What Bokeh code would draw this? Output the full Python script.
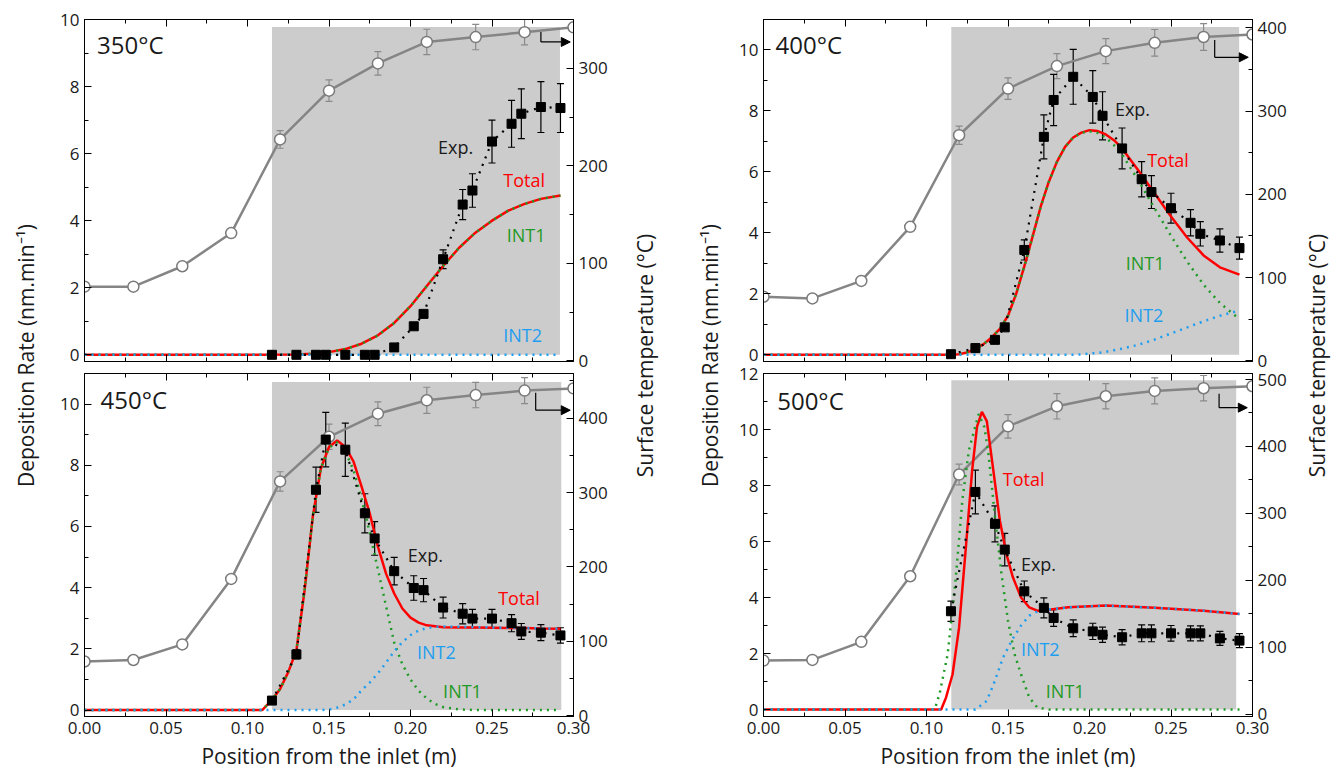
import math
from bokeh.plotting import figure
from bokeh.models import (Range1d, LinearAxis, FixedTicker, NumeralTickFormatter, Whisker, TeeHead,
                          ColumnDataSource, Label, Arrow, NormalHead, CustomLabelingPolicy)
from bokeh.layouts import row, column
from bokeh.embed import file_html
from bokeh.resources import INLINE

FONT = "Open Sans"
TXT = "#1a1a1a"
RED = "#ff0000"
GREEN = "#1f9a26"
BLUE = "#1e9ef0"
GRAY = "#858585"
SHADE = "#cccccc"

# ---------------- data ----------------
x_ticks = [0.00, 0.05, 0.10, 0.15, 0.20, 0.25, 0.30]
x_minor = [0.025, 0.075, 0.125, 0.175, 0.225, 0.275]

# surface temperature profiles (right axis, degC)
temp_x = [0.00, 0.03, 0.06, 0.09, 0.12, 0.15, 0.18, 0.21, 0.24, 0.27, 0.30]
temp_350 = [76, 76, 97, 131, 227, 277, 305, 327, 332, 337, 342]
temp_350_err = [2, 2, 3, 4, 9, 11, 12, 13, 13, 13, 0]
temp_400 = [77, 75, 96, 161, 271, 327, 354, 372, 382, 389, 392]
temp_400_err = [2, 2, 3, 4, 11, 13, 15, 15, 16, 16, 0]
temp_450 = [73, 75, 96, 184, 315, 375, 406, 424, 431, 437, 440]
temp_450_err = [2, 2, 3, 4, 13, 17, 16, 17.5, 17, 17.5, 0]
temp_500 = [80, 81, 108, 206, 358, 430, 460, 475, 483, 487, 490]
temp_500_err = [2, 2, 3, 4, 15.5, 17.5, 19, 19, 19.5, 19, 0]

# experimental deposition rates (nm/min)
exp_x = [0.115, 0.130, 0.142, 0.148, 0.160, 0.172, 0.178, 0.190, 0.202, 0.208,
         0.220, 0.232, 0.238, 0.250, 0.262, 0.268, 0.280, 0.292]
dep_350 = [0, 0, 0, 0, 0, 0, 0, 0.22, 0.85, 1.22, 2.85, 4.48, 4.9, 6.36, 6.89, 7.19, 7.39, 7.36]
dep_350_err = [0.05, 0.05, 0.05, 0.05, 0.05, 0.05, 0.05, 0.05, 0.08, 0.1, 0.28, 0.45, 0.5, 0.64, 0.7, 0.74, 0.76, 0.73]
dep_400 = [0.02, 0.22, 0.49, 0.9, 3.44, 7.15, 8.36, 9.12, 8.46, 7.84, 6.77, 5.76, 5.34, 4.81, 4.33, 3.97, 3.75, 3.5]
dep_400_err = [0.03, 0.05, 0.07, 0.1, 0.33, 0.72, 0.84, 0.9, 0.86, 0.79, 0.67, 0.58, 0.54, 0.49, 0.43, 0.4, 0.38, 0.36]
dep_450 = [0.31, 1.82, 7.2, 8.84, 8.51, 6.43, 5.61, 4.54, 3.99, 3.92, 3.35, 3.15, 2.99, 2.99, 2.84, 2.57, 2.53, 2.44]
dep_450_err = [0.05, 0.15, 0.74, 0.89, 0.87, 0.64, 0.55, 0.45, 0.4, 0.38, 0.34, 0.33, 0.3, 0.3, 0.28, 0.26, 0.26, 0.25]
dep_500 = [3.51, 7.77, 6.63, 5.71, 4.22, 3.63, 3.27, 2.90, 2.79, 2.67, 2.58, 2.72, 2.72, 2.72, 2.72, 2.72, 2.54, 2.46]
dep_500_err = [0.36, 0.78, 0.64, 0.58, 0.37, 0.36, 0.3, 0.3, 0.29, 0.27, 0.27, 0.3, 0.3, 0.28, 0.27, 0.27, 0.25, 0.25]

# model curves
m350_x = [0, 0.10, 0.13, 0.14, 0.15, 0.16, 0.17, 0.18, 0.19, 0.20, 0.21, 0.22, 0.23, 0.24, 0.25, 0.26, 0.27, 0.28, 0.292]
m350_total = [0, 0, 0.01, 0.03, 0.08, 0.17, 0.33, 0.58, 0.95, 1.45, 2.05, 2.65, 3.2, 3.65, 4.0, 4.3, 4.5, 4.65, 4.75]
m350_int1 = [0, 0, 0.01, 0.03, 0.08, 0.17, 0.33, 0.58, 0.95, 1.45, 2.05, 2.65, 3.2, 3.65, 4.0, 4.3, 4.5, 4.65, 4.75]
m350_int2 = [0, 0, 0, 0, 0, 0, 0, 0, 0, 0, 0, 0, 0, 0, 0, 0, 0, 0, 0]

m400_x = [0, 0.10, 0.115, 0.12, 0.125, 0.13, 0.135, 0.14, 0.145, 0.15, 0.155, 0.16, 0.165, 0.17, 0.175,
          0.18, 0.185, 0.19, 0.195, 0.20, 0.205, 0.21, 0.215, 0.22, 0.23, 0.24, 0.25, 0.26, 0.27, 0.28, 0.292]
m400_total = [0, 0, 0.0, 0.02, 0.08, 0.19, 0.35, 0.57, 0.85, 1.28, 2.0, 2.9, 3.86, 4.85, 5.67,
              6.33, 6.82, 7.13, 7.29, 7.37, 7.34, 7.23, 7.04, 6.77, 6.05, 5.29, 4.54, 3.84, 3.26, 2.87, 2.63]
m400_int1 = [0, 0, 0.0, 0.02, 0.08, 0.19, 0.35, 0.57, 0.85, 1.28, 2.0, 2.9, 3.86, 4.85, 5.67,
             6.33, 6.82, 7.13, 7.28, 7.33, 7.28, 7.13, 6.88, 6.57, 5.72, 4.8, 3.9, 3.05, 2.3, 1.7, 1.17]
m400_int2 = [0, 0, 0, 0, 0, 0, 0, 0, 0, 0, 0, 0, 0, 0, 0,
             0, 0, 0, 0.01, 0.04, 0.06, 0.1, 0.15, 0.2, 0.33, 0.5, 0.7, 0.9, 1.1, 1.28, 1.45]

m450_x = [0, 0.109, 0.115, 0.12, 0.125, 0.13, 0.135, 0.14, 0.145, 0.15, 0.155, 0.16, 0.165, 0.17, 0.175,
          0.18, 0.185, 0.19, 0.195, 0.20, 0.205, 0.21, 0.215, 0.22, 0.23, 0.24, 0.25, 0.26, 0.27, 0.28, 0.292]
m450_total = [0, 0, 0.33, 0.69, 1.24, 1.95, 3.9, 6.3, 7.9, 8.6, 8.81, 8.6, 8.13, 7.3, 6.43,
              5.34, 4.46, 3.81, 3.32, 3.02, 2.86, 2.77, 2.74, 2.71, 2.7, 2.7, 2.69, 2.68, 2.68, 2.67, 2.66]
m450_int1 = [0, 0, 0.33, 0.69, 1.24, 1.95, 3.9, 6.3, 7.9, 8.58, 8.75, 8.45, 7.85, 6.9, 5.8,
             4.6, 3.4, 2.2, 1.5, 1.0, 0.63, 0.38, 0.2, 0.1, 0.02, 0, 0, 0, 0, 0, 0]
m450_int2 = [0, 0, 0, 0, 0, 0, 0, 0, 0, 0.02, 0.08, 0.18, 0.35, 0.65, 0.9,
             1.2, 1.55, 1.92, 2.22, 2.45, 2.6, 2.68, 2.72, 2.73, 2.72, 2.71, 2.7, 2.69, 2.68, 2.67, 2.66]

m500_total_x = [0, 0.109, 0.112, 0.116, 0.120, 0.124, 0.128, 0.131, 0.134, 0.137, 0.141, 0.145, 0.149,
                0.153, 0.158, 0.163, 0.168, 0.174, 0.187, 0.21, 0.24, 0.27, 0.292]
m500_total = [0, 0, 0.43, 1.26, 2.93, 5.68, 8.54, 10.1, 10.63, 10.3, 8.54, 6.75, 5.56,
              4.72, 4.0, 3.65, 3.53, 3.55, 3.65, 3.71, 3.63, 3.53, 3.41]
m500_int1_x = [0, 0.105, 0.108, 0.113, 0.118, 0.122, 0.126, 0.132, 0.1355, 0.138, 0.142, 0.146, 0.150,
               0.154, 0.158, 0.163, 0.168, 0.175, 0.292]
m500_int1 = [0, 0, 0.55, 1.98, 4.72, 7.47, 9.26, 10.55, 10.09, 9.14, 6.9, 4.84, 3.17,
             1.98, 1.26, 0.43, 0.07, 0, 0]
m500_int2_x = [0, 0.130, 0.137, 0.142, 0.147, 0.1526, 0.158, 0.163, 0.168, 0.174, 0.187, 0.21, 0.24, 0.27, 0.292]
m500_int2 = [0, 0, 0.31, 1.03, 1.86, 2.5, 3.0, 3.35, 3.5, 3.56, 3.65, 3.71, 3.63, 3.53, 3.41]

# annotation placements (data coordinates)
shade_350 = [0.115, 0.2917, 9.78]
shade_400 = [0.1152, 0.2918, 10.75]
shade_450 = [0.115, 0.2925, 10.72]
shade_500 = [0.1152, 0.290, 11.76]
arrow_350 = [0.280, 9.63, 9.33, 0.298]
arrow_400 = [0.2768, 10.33, 9.76, 0.2974]
arrow_450 = [0.2768, 10.37, 9.80, 0.298]
arrow_500 = [0.2795, 11.28, 10.78, 0.2968]
texts_350 = [("350°C", 0.0077, 9.26), ("Exp.", 0.2169, 6.19), ("Total", 0.2569, 5.2),
             ("INT1", 0.259, 3.57), ("INT2", 0.2569, 0.58)]
texts_400 = [("400°C", 0.0074, 10.19), ("Exp.", 0.2156, 8.06), ("Total", 0.2354, 6.4),
             ("INT1", 0.2222, 3.0), ("INT2", 0.2214, 1.32)]
texts_450 = [("450°C", 0.0098, 10.14), ("Exp.", 0.1983, 5.07), ("Total", 0.2538, 3.65),
             ("INT1", 0.22, 0.62), ("INT2", 0.204, 1.9)]
texts_500 = [("500°C", 0.0084, 11.05), ("Exp.", 0.1579, 5.2), ("Total", 0.1468, 8.22),
             ("INT1", 0.1732, 0.66), ("INT2", 0.1579, 2.15)]

TEXT_COLORS = {"Exp.": TXT, "Total": RED, "INT1": GREEN, "INT2": BLUE}


def style_axis(ax, show_labels=True):
    ax.axis_line_color = "black"
    ax.axis_line_width = 1
    ax.major_tick_line_color = "black"
    ax.minor_tick_line_color = "black"
    ax.major_tick_in = 7
    ax.major_tick_out = 0
    ax.minor_tick_in = 4
    ax.minor_tick_out = 0
    ax.major_label_text_font = FONT
    ax.major_label_text_color = TXT
    if show_labels:
        ax.major_label_text_font_size = "17px"
        ax.major_label_standoff = 5
    else:
        ax.major_label_text_font_size = "0px"
        ax.major_label_standoff = 0
        ax.major_label_policy = CustomLabelingPolicy(code="return []")


def make_panel(w, h, bl, br, bt, bb, yr, tr, yt, ym, tt, tm, show_x,
               temp, temp_err, dep, dep_err, total_xy, int1_xy, int2_xy, shade, arrow, texts):
    p = figure(width=w, height=h, x_range=Range1d(0, 0.3), y_range=Range1d(*yr),
               output_backend="svg", toolbar_location=None, title=None,
               min_border_left=bl, min_border_right=br, min_border_top=bt, min_border_bottom=bb,
               background_fill_color="white", border_fill_color=None)
    p.extra_y_ranges = {"T": Range1d(*tr)}
    p.grid.visible = False
    p.outline_line_color = "black"
    p.outline_line_width = 1

    xb = p.below[0]
    yl = p.left[0]
    xb.ticker = FixedTicker(ticks=x_ticks, minor_ticks=x_minor)
    xb.formatter = NumeralTickFormatter(format="0.00")
    yl.ticker = FixedTicker(ticks=yt, minor_ticks=ym)
    right = LinearAxis(y_range_name="T", ticker=FixedTicker(ticks=tt, minor_ticks=tm))
    top = LinearAxis(ticker=FixedTicker(ticks=x_ticks, minor_ticks=x_minor))
    p.add_layout(right, "right")
    p.add_layout(top, "above")
    style_axis(xb, show_x)
    style_axis(yl)
    style_axis(right)
    style_axis(top, False)
    if show_x:
        xb.axis_label = "Position from the inlet (m)"
        xb.axis_label_text_font = FONT
        xb.axis_label_text_font_size = "21px"
        xb.axis_label_text_font_style = "normal"
        xb.axis_label_text_color = TXT
        xb.axis_label_standoff = 5

    # shaded deposition zone
    p.quad(left=[shade[0]], right=[shade[1]], bottom=[0], top=[shade[2]],
           fill_color=SHADE, line_color=None, level="image")

    # temperature profile (right axis)
    tsrc = ColumnDataSource(dict(x=temp_x, y=temp,
                                 lo=[a - b for a, b in zip(temp, temp_err)],
                                 hi=[a + b for a, b in zip(temp, temp_err)]))
    tw = Whisker(source=tsrc, base="x", lower="lo", upper="hi", y_range_name="T",
                 line_color="#8a8a8a", line_width=1.2, level="underlay",
                 lower_head=TeeHead(size=7, line_color="#8a8a8a", line_width=1.2),
                 upper_head=TeeHead(size=7, line_color="#8a8a8a", line_width=1.2))
    p.add_layout(tw)
    p.line("x", "y", source=tsrc, y_range_name="T", line_color=GRAY, line_width=2.5)
    p.scatter("x", "y", source=tsrc, y_range_name="T", marker="circle", size=11,
              fill_color="white", line_color="#7a7a7a", line_width=1.5)

    # model curves
    p.line(total_xy[0], total_xy[1], line_color=RED, line_width=2.5)
    p.line(int1_xy[0], int1_xy[1], line_color=GREEN, line_width=2.5, line_dash="2 5")
    p.line(int2_xy[0], int2_xy[1], line_color=BLUE, line_width=2.5, line_dash="2 5")

    # experimental data
    esrc = ColumnDataSource(dict(x=exp_x, y=dep,
                                 lo=[a - b for a, b in zip(dep, dep_err)],
                                 hi=[a + b for a, b in zip(dep, dep_err)]))
    ew = Whisker(source=esrc, base="x", lower="lo", upper="hi",
                 line_color="black", line_width=1.2, level="underlay",
                 lower_head=TeeHead(size=7, line_color="black", line_width=1.2),
                 upper_head=TeeHead(size=7, line_color="black", line_width=1.2))
    p.add_layout(ew)
    p.line("x", "y", source=esrc, line_color="black", line_width=2.2, line_dash="2 6")
    p.scatter("x", "y", source=esrc, marker="square", size=9, fill_color="black", line_color="black")

    # arrow pointing to the right axis
    p.line([arrow[0], arrow[0]], [arrow[1], arrow[2]], line_color="black", line_width=1.2)
    p.add_layout(Arrow(x_start=arrow[0], y_start=arrow[2], x_end=arrow[3], y_end=arrow[2],
                       line_color="black", line_width=1.2,
                       end=NormalHead(size=9, fill_color="black", line_color="black")))

    # texts
    for i, (t, x, y) in enumerate(texts):
        if i == 0:
            p.add_layout(Label(x=x, y=y, text=t, text_font=FONT, text_font_size="24px",
                               text_color=TXT, text_align="left", text_baseline="middle"))
        else:
            p.add_layout(Label(x=x, y=y, text=t, text_font=FONT, text_font_size="18px",
                               text_color=TEXT_COLORS[t], text_align="left", text_baseline="middle"))
    return p


TOTAL_H = 776


def label_fig(x0, x1, items):
    f = figure(width=x1 - x0, height=TOTAL_H, x_range=Range1d(x0, x1), y_range=Range1d(TOTAL_H, 0),
               x_axis_type=None, y_axis_type=None, output_backend="svg", toolbar_location=None,
               title=None, min_border=0, outline_line_color=None,
               background_fill_color="white", border_fill_color="white")
    for text, x in items:
        f.add_layout(Label(x=x, y=355, text=text, angle=math.pi / 2, text_align="center",
                           text_baseline="middle", text_font=FONT, text_font_size="21px",
                           text_color=TXT))
    return f


DEP_TITLE = "Deposition Rate (nm.min\u207b\u00b9)"
TEMP_TITLE = "Surface temperature (°C)"

# top panels: canvas 0..376 (frame 19..361); bottom panels overlap upward by 16 px:
# canvas 360..776 (frame 373..716)
p1 = make_panel(576, 376, 40, 47, 19, 15, (-0.2, 10), (-0.7, 350),
                [0, 2, 4, 6, 8, 10], [1, 3, 5, 7, 9], [0, 100, 200, 300], [50, 150, 250], False,
                temp_350, temp_350_err, dep_350, dep_350_err,
                (m350_x, m350_total), (m350_x, m350_int1), (m350_x, m350_int2),
                shade_350, arrow_350, texts_350)
p3 = make_panel(576, 416, 40, 47, 13, 60, (-0.21, 11), (-0.9, 460),
                [0, 2, 4, 6, 8, 10], [1, 3, 5, 7, 9], [0, 100, 200, 300, 400], [50, 150, 250, 350, 450], True,
                temp_450, temp_450_err, dep_450, dep_450_err,
                (m450_x, m450_total), (m450_x, m450_int1), (m450_x, m450_int2),
                shade_450, arrow_450, texts_450)
p2 = make_panel(570, 376, 33, 48, 19, 15, (-0.22, 11), (-0.8, 410),
                [0, 2, 4, 6, 8, 10], [1, 3, 5, 7, 9], [0, 100, 200, 300, 400], [50, 150, 250, 350], False,
                temp_400, temp_400_err, dep_400, dep_400_err,
                (m400_x, m400_total), (m400_x, m400_int1), (m400_x, m400_int2),
                shade_400, arrow_400, texts_400)
p4 = make_panel(570, 416, 33, 48, 13, 60, (-0.25, 12), (-3.6, 509),
                [0, 2, 4, 6, 8, 10, 12], [1, 3, 5, 7, 9, 11], [0, 100, 200, 300, 400, 500],
                [50, 150, 250, 350, 450], True,
                temp_500, temp_500_err, dep_500, dep_500_err,
                (m500_total_x, m500_total), (m500_int1_x, m500_int1), (m500_int2_x, m500_int2),
                shade_500, arrow_500, texts_500)
p3.margin = (-16, 0, 0, 0)
p4.margin = (-16, 0, 0, 0)

lab_l = label_fig(0, 44, [(DEP_TITLE, 25)])
lab_m = label_fig(620, 730, [(TEMP_TITLE, 644), (DEP_TITLE, 709)])
lab_r = label_fig(1300, 1332, [(TEMP_TITLE, 1316)])

page = row(lab_l, column(p1, p3), lab_m, column(p2, p4), lab_r)

open("out.html", "w").write(file_html(page, INLINE))
